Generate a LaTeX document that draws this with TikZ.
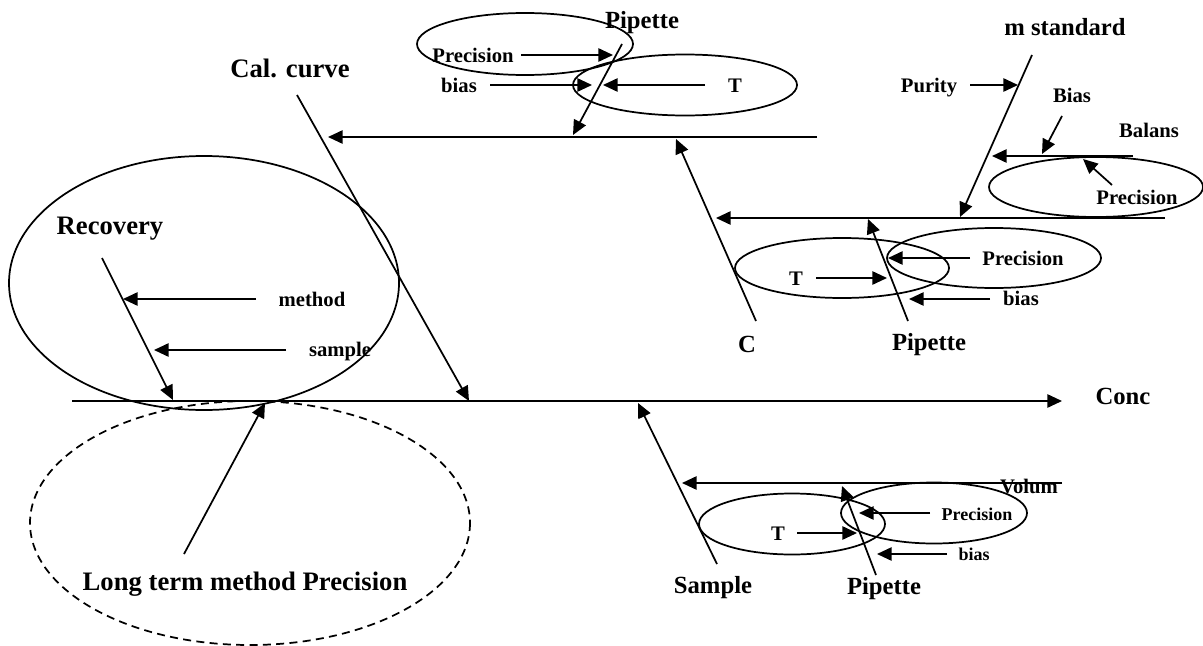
\documentclass[tikz,border=0pt]{standalone}
\usepackage{fontspec}
\setmainfont{Liberation Serif}
\usetikzlibrary{arrows.meta}
\tikzset{
  ln/.style={line width=1.3pt},
  arr/.style={line width=1.3pt,-{Triangle[length=11pt,width=10pt]}},
  ell/.style={line width=1.3pt},
  lbl/.style={anchor=base,inner sep=0pt,font=\bfseries},
  big/.style={lbl,font=\fontsize{20}{24}\selectfont\bfseries},
  mid/.style={lbl,font=\fontsize{18.5}{22}\selectfont\bfseries},
  sml/.style={lbl,font=\fontsize{15.5}{18}\selectfont\bfseries},
  tny/.style={lbl,font=\fontsize{13.5}{16}\selectfont\bfseries}
}
\begin{document}
\begin{tikzpicture}[x=0.75pt,y=-0.75pt]
\useasboundingbox (0,0) rectangle (1203,646);

% ---------- ellipses ----------
\draw[ell] (525,44) ellipse [x radius=108, y radius=31];
\draw[ell] (685,85) ellipse [x radius=112, y radius=30.5];
\draw[ell] (1096,187) ellipse [x radius=107, y radius=30];
\draw[ell] (842,268) ellipse [x radius=107, y radius=30];
\draw[ell] (994,258) ellipse [x radius=107, y radius=30];
\draw[ell] (204,283) ellipse [x radius=195, y radius=127];
\draw[ell,dashed,dash pattern=on 6pt off 4pt] (250,523) ellipse [x radius=220, y radius=122];
\draw[ell] (792,524) ellipse [x radius=93, y radius=30.5];
\draw[ell] (934,513) ellipse [x radius=93, y radius=30.5];

% ---------- labels ----------
\node[mid] (conc) at (1123,404) {Conc};
\node[big] (cal) at (290,77) {Cal. curve};
\node[mid] (pipT) at (642,28) {Pipette};
\node[sml] (precT) at (473,62) {Precision};
\node[sml] (biasT) at (459,92) {bias};
\node[sml] (tT) at (735,92) {T};
\node[mid] (cc) at (747,352) {C};
\node[mid] (mstd) at (1065,36) {m standard};
\node[sml] (purity) at (929,92) {Purity};
\node[sml] (biasB) at (1072,102) {Bias};
\node[sml] (balans) at (1149,137) {Balans};
\node[sml] (precB) at (1137,204) {Precision};
\node[sml] (tM) at (796,285) {T};
\node[sml] (precM) at (1023,265) {Precision};
\node[sml] (biasM) at (1021,305) {bias};
\node[mid] (pipM) at (929,350) {Pipette};
\node[big] (recov) at (110,234) {Recovery};
\node[sml] (method) at (312,306) {method};
\node[sml] (sample) at (340,356) {sample};
\node[big] (long) at (245,590) {Long term method Precision};
\node[mid] (samp) at (713,593) {Sample};
\node[sml] (volum) at (1029,493) {Volum};
\node[sml] (tL) at (778,540) {T};
\node[tny] (precL) at (977,520) {Precision};
\node[tny] (biasL) at (974,560) {bias};
\node[mid] (pipL) at (884,594) {Pipette};

% ---------- coordinates ----------
\coordinate (s0) at (72,401);   \coordinate (s1) at (1062,401);
\coordinate (cal0) at (297,95); \coordinate (cal1) at (469,401);
\coordinate (h10) at (817,137); \coordinate (h11) at (328,137);
\coordinate (pt0) at (622,44);  \coordinate (pt1) at (573,135);
\coordinate (a10) at (521,55);  \coordinate (a11) at (613,55);
\coordinate (a20) at (490,85);  \coordinate (a21) at (592,85);
\coordinate (a30) at (705,85);  \coordinate (a31) at (603,85);
\coordinate (c0) at (756,321);  \coordinate (c1) at (676,139);
\coordinate (h20) at (1165,218); \coordinate (h21) at (716,218);
\coordinate (m0) at (1032,55);  \coordinate (m1) at (960,217);
\coordinate (pu0) at (970,85);  \coordinate (pu1) at (1018,85);
\coordinate (b0) at (1133,156); \coordinate (b1) at (992,156);
\coordinate (bb0) at (1062,116); \coordinate (bb1) at (1042,154);
\coordinate (bp0) at (1112,185); \coordinate (bp1) at (1083,159);
\coordinate (mt0) at (816,278); \coordinate (mt1) at (887,278);
\coordinate (mp0) at (970,258); \coordinate (mp1) at (888,258);
\coordinate (mb0) at (990,299); \coordinate (mb1) at (909,299);
\coordinate (pm0) at (908,321); \coordinate (pm1) at (868,219);
\coordinate (r0) at (102,258);  \coordinate (r1) at (173,400);
\coordinate (me0) at (256,299); \coordinate (me1) at (123,299);
\coordinate (sa0) at (286,350); \coordinate (sa1) at (154,350);
\coordinate (l0) at (184,554);  \coordinate (l1) at (265,403);
\coordinate (sp0) at (717,564); \coordinate (sp1) at (638,403);
\coordinate (v0) at (1062,483); \coordinate (v1) at (682,483);
\coordinate (lt0) at (797,533); \coordinate (lt1) at (857,533);
\coordinate (lp0) at (930,513); \coordinate (lp1) at (859,513);
\coordinate (lb0) at (947,554); \coordinate (lb1) at (877,554);
\coordinate (pl0) at (876,575); \coordinate (pl1) at (842,486);

% ---------- connectors ----------
\draw[arr] (s0) -- (s1);
\draw[arr] (cal0) -- (cal1);
\draw[arr] (h10) -- (h11);
\draw[arr] (pt0) -- (pt1);
\draw[arr] (a10) -- (a11);
\draw[arr] (a20) -- (a21);
\draw[arr] (a30) -- (a31);
\draw[arr] (c0) -- (c1);
\draw[arr] (h20) -- (h21);
\draw[arr] (m0) -- (m1);
\draw[arr] (pu0) -- (pu1);
\draw[arr] (b0) -- (b1);
\draw[arr] (bb0) -- (bb1);
\draw[arr] (bp0) -- (bp1);
\draw[arr] (mt0) -- (mt1);
\draw[arr] (mp0) -- (mp1);
\draw[arr] (mb0) -- (mb1);
\draw[arr] (pm0) -- (pm1);
\draw[arr] (r0) -- (r1);
\draw[arr] (me0) -- (me1);
\draw[arr] (sa0) -- (sa1);
\draw[arr] (l0) -- (l1);
\draw[arr] (sp0) -- (sp1);
\draw[arr] (v0) -- (v1);
\draw[arr] (lt0) -- (lt1);
\draw[arr] (lp0) -- (lp1);
\draw[arr] (lb0) -- (lb1);
\draw[arr] (pl0) -- (pl1);
\end{tikzpicture}
\end{document}
